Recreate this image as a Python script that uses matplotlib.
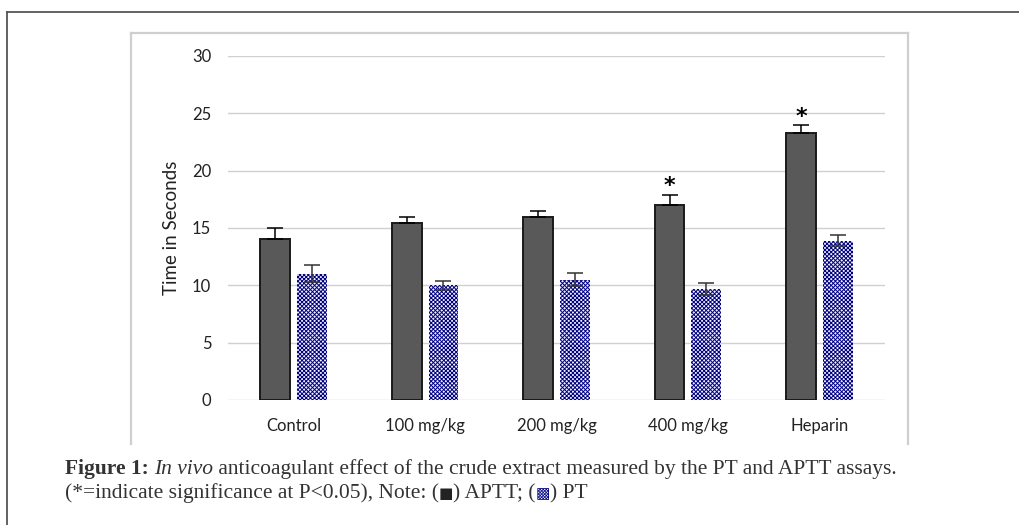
import numpy as np
import matplotlib.pyplot as plt
from matplotlib.lines import Line2D

groups = ['Control', '100 mg/kg', '200 mg/kg', '400 mg/kg', 'Heparin']
aptt = [14.0, 15.4, 16.0, 17.0, 23.3]
aptt_err = [1.0, 0.6, 0.5, 0.9, 0.65]
pt = [11.0, 10.0, 10.5, 9.7, 13.9]
pt_err = [0.75, 0.4, 0.6, 0.5, 0.45]
signif = [False, False, False, True, True]
yticks = [0, 5, 10, 15, 20, 25, 30]

fig = plt.figure(figsize=(10.19, 5.25), dpi=100)
W, H = 1019, 525

def px(x, y):
    return x / W, 1 - y / H

# outer frame (only top and left visible in the crop)
x0, y0 = px(7, 12)
x1, y1 = px(1019, 525)
fig.add_artist(Line2D([x0, x0], [y1, y0], color='#555555', lw=1.3))
fig.add_artist(Line2D([x0, x1], [y0, y0], color='#555555', lw=1.3))

# chart area border
bx0, by0 = px(131, 33)
bx1, by1 = px(908, 444)
for xs, ys in [([bx0, bx0], [by1, by0]), ([bx0, bx1], [by0, by0]), ([bx1, bx1], [by0, by1])]:
    fig.add_artist(Line2D(xs, ys, color='#cfcfcf', lw=1.6))

ax = fig.add_axes([228 / W, 1 - 400 / H, 657 / W, 344 / H])
x = np.arange(len(groups))
bw = 0.228
off = 0.14

ax.bar(x - off, aptt, bw, color='#595959', edgecolor='#1a1a1a', linewidth=1.4, zorder=3)
ax.errorbar(x - off, aptt, yerr=[np.zeros(len(aptt)), aptt_err], fmt='none',
            ecolor='black', elinewidth=1.1, capsize=6, capthick=1.1, zorder=4)

plt.rcParams['hatch.color'] = '#000080'
plt.rcParams['hatch.linewidth'] = 0.7
ax.bar(x + off, pt, bw, color='#f0f0f8', edgecolor='#000080', hatch='xxxxxxxx', linewidth=0, zorder=3)
ax.errorbar(x + off, pt, yerr=pt_err, fmt='none',
            ecolor='#333333', elinewidth=1.1, capsize=6, capthick=1.1, zorder=4)

for i, s in enumerate(signif):
    if s:
        ax.text(x[i] - off, aptt[i] + aptt_err[i] + 0.75, '*', ha='center', va='center',
                fontsize=16, fontweight='bold', color='black', zorder=5)

ax.set_xlim(-0.5, len(groups) - 0.5)
ax.set_ylim(0, 30)
ax.set_yticks(yticks)
ax.set_xticks(x)
ax.set_xticklabels(groups)
ax.yaxis.grid(True, color='#d0d0d0', linewidth=1.0, zorder=0)
ax.set_axisbelow(True)
for sp in ax.spines.values():
    sp.set_visible(False)
ax.tick_params(length=0, labelsize=12, colors='#222222')
ax.tick_params(axis='y', pad=12)
ax.tick_params(axis='x', pad=13)
for lab in ax.get_xticklabels() + ax.get_yticklabels():
    lab.set_family('Lato')
ax.set_ylabel('Time in Seconds', fontsize=13.5, family='Lato', color='#222222', labelpad=9)

# caption
fig.canvas.draw()
r = fig.canvas.get_renderer()
serif = ['Liberation Serif', 'DejaVu Serif']
fs = 15.5
col = '#333333'

def run(pieces, xs, ys):
    cx = xs
    for txt, kw in pieces:
        t = fig.text(cx / W, 1 - ys / H, txt, fontsize=kw.get('size', fs), color=kw.get('color', col),
                     va='baseline', family=kw.get('family', serif),
                     fontweight=kw.get('weight', 'normal'), fontstyle=kw.get('style', 'normal'))
        bb = t.get_window_extent(renderer=r)
        cx += bb.width

run([('Figure 1:', {'weight': 'bold'}), (' ', {}), ('In vivo', {'style': 'italic'}),
     (' anticoagulant effect of the crude extract measured by the PT and APTT assays.', {})],
    65, 474)
sym = {'family': ['DejaVu Sans'], 'size': 11}
run([('(*=indicate significance at P<0.05), Note: (', {}),
     ('\u25a0', dict(sym, color='#222222')), (') APTT; (', {}),
     ('\u25a9', dict(sym, color='#000080')), (') PT', {})],
    65, 498)

fig.savefig('out.png', dpi=100)
